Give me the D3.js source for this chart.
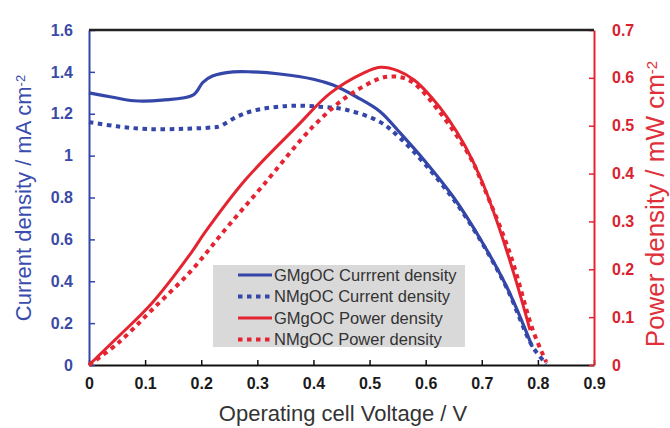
<!DOCTYPE html>
<html>
<head>
<script src="https://cdn.jsdelivr.net/npm/d3@7"></script>
<style>
  body { margin: 0; background: #fff; }
  svg { display: block; font-family: Arial, "Liberation Sans", sans-serif; }
</style>
</head>
<body>
<svg id="chart"></svg>
<script>
// voltage / current readings (GMgOC, NMgOC)
const gCurV = [0, 0.04, 0.08, 0.13, 0.186, 0.203, 0.22, 0.257, 0.29, 0.34, 0.40, 0.435, 0.477, 0.519, 0.554, 0.60, 0.65, 0.70, 0.745, 0.79];
const gCurI = [1.30, 1.28, 1.262, 1.265, 1.29, 1.35, 1.38, 1.40, 1.40, 1.39, 1.365, 1.337, 1.28, 1.21, 1.11, 0.97, 0.80, 0.59, 0.37, 0.087];
const nCurV = [0, 0.05, 0.103, 0.17, 0.22, 0.233, 0.264, 0.292, 0.353, 0.41, 0.46, 0.519, 0.554, 0.60, 0.65, 0.70, 0.745, 0.79, 0.815];
const nCurI = [1.16, 1.14, 1.127, 1.128, 1.135, 1.14, 1.186, 1.214, 1.237, 1.234, 1.218, 1.16, 1.085, 0.955, 0.79, 0.585, 0.365, 0.09, 0.005];
// power readings
const gPowV = [0, 0.052, 0.112, 0.183, 0.206, 0.278, 0.37, 0.43, 0.489, 0.519, 0.55, 0.58, 0.61, 0.64, 0.67, 0.70, 0.73, 0.76, 0.786];
const gPowP = [0, 0.059, 0.129, 0.236, 0.276, 0.386, 0.498, 0.568, 0.61, 0.622, 0.615, 0.595, 0.56, 0.515, 0.458, 0.385, 0.29, 0.18, 0.073];
const nPowV = [0, 0.052, 0.112, 0.183, 0.242, 0.31, 0.399, 0.459, 0.519, 0.54, 0.56, 0.58, 0.626, 0.679, 0.703, 0.75, 0.791, 0.815];
const nPowP = [0, 0.046, 0.115, 0.198, 0.282, 0.375, 0.498, 0.56, 0.599, 0.603, 0.600, 0.588, 0.527, 0.435, 0.373, 0.234, 0.073, 0.006];

const xTicks = [0, 0.1, 0.2, 0.3, 0.4, 0.5, 0.6, 0.7, 0.8, 0.9];
const yLeftTicks = [0, 0.2, 0.4, 0.6, 0.8, 1, 1.2, 1.4, 1.6];
const yRightTicks = [0, 0.1, 0.2, 0.3, 0.4, 0.5, 0.6, 0.7];
const legendLabels = ["GMgOC Currrent density", "NMgOC Current density", "GMgOC Power density", "NMgOC Power density"];

const width = 670, height = 428;
const margin = { top: 30, right: 76, bottom: 63, left: 89 };
const blue = "#3447a8", red = "#e52431";

const svg = d3.select("#chart").attr("width", width).attr("height", height);

const x = d3.scaleLinear().domain([0, 0.9]).range([margin.left, width - margin.right]);
const yL = d3.scaleLinear().domain([0, 1.6]).range([height - margin.bottom, margin.top]);
const yR = d3.scaleLinear().domain([0, 0.7]).range([height - margin.bottom, margin.top]);

// axes
const fmt = d => d3.format("")(d);

const gx = svg.append("g")
    .attr("transform", `translate(0,${height - margin.bottom})`)
    .call(d3.axisBottom(x).tickValues(xTicks).tickSizeInner(-5).tickSizeOuter(0).tickPadding(13).tickFormat(fmt));
gx.select(".domain").attr("stroke", "#111").attr("stroke-width", 2);
gx.selectAll(".tick line").attr("stroke", "#111").attr("stroke-width", 1.5);
gx.selectAll("text").attr("font-size", 16).attr("font-weight", "bold").attr("fill", "#1a1a1a");

const gl = svg.append("g")
    .attr("transform", `translate(${margin.left},0)`)
    .call(d3.axisLeft(yL).tickValues(yLeftTicks).tickSizeInner(-6).tickSizeOuter(0).tickPadding(16).tickFormat(fmt));
gl.select(".domain").attr("stroke", blue).attr("stroke-width", 2);
gl.selectAll(".tick line").attr("stroke", blue).attr("stroke-width", 1.5);
gl.selectAll("text").attr("font-size", 16).attr("font-weight", "bold").attr("fill", "#3a4aa6");

const gr = svg.append("g")
    .attr("transform", `translate(${width - margin.right},0)`)
    .call(d3.axisRight(yR).tickValues(yRightTicks).tickSizeInner(-5).tickSizeOuter(0).tickPadding(18).tickFormat(fmt));
gr.select(".domain").attr("stroke", red).attr("stroke-width", 2);
gr.selectAll(".tick line").attr("stroke", red).attr("stroke-width", 1.5);
gr.selectAll("text").attr("font-size", 16).attr("font-weight", "bold").attr("fill", "#d9222e");

// top border
svg.append("line")
    .attr("x1", margin.left).attr("x2", width - margin.right)
    .attr("y1", margin.top).attr("y2", margin.top)
    .attr("stroke", "#222").attr("stroke-width", 2.5);

// curves
const smooth = d3.curveCatmullRom.alpha(0.5);
const lineL = d3.line().x(d => x(d[0])).y(d => yL(d[1])).curve(smooth);
const lineR = d3.line().x(d => x(d[0])).y(d => yR(d[1])).curve(smooth);
const dotted = "4.5,4.5";

svg.append("path").datum(d3.zip(gCurV, gCurI)).attr("d", lineL)
    .attr("fill", "none").attr("stroke", blue).attr("stroke-width", 3.2);
svg.append("path").datum(d3.zip(nCurV, nCurI)).attr("d", lineL)
    .attr("fill", "none").attr("stroke", blue).attr("stroke-width", 4).attr("stroke-dasharray", dotted);
svg.append("path").datum(d3.zip(gPowV, gPowP)).attr("d", lineR)
    .attr("fill", "none").attr("stroke", red).attr("stroke-width", 3);
svg.append("path").datum(d3.zip(nPowV, nPowP)).attr("d", lineR)
    .attr("fill", "none").attr("stroke", red).attr("stroke-width", 4).attr("stroke-dasharray", dotted);

// legend
const leg = svg.append("g").attr("transform", "translate(213,265)");
leg.append("rect").attr("width", 252).attr("height", 82).attr("fill", "#d9d9d9");
const styles = [
    { c: blue, dash: null, w: 3.2 },
    { c: blue, dash: dotted, w: 4 },
    { c: red, dash: null, w: 3 },
    { c: red, dash: dotted, w: 4 }
];
legendLabels.forEach((t, i) => {
    const yy = 10 + i * 21.5;
    leg.append("line").attr("x1", 25).attr("x2", 59).attr("y1", yy).attr("y2", yy)
        .attr("stroke", styles[i].c).attr("stroke-width", styles[i].w)
        .attr("stroke-dasharray", styles[i].dash);
    leg.append("text").attr("x", 61).attr("y", yy).attr("dy", "0.36em")
        .attr("font-size", 16.5).attr("fill", "#333").text(t);
});

// axis titles
svg.append("text")
    .attr("transform", `translate(31,198) rotate(-90)`)
    .attr("text-anchor", "middle").attr("font-size", 22).attr("fill", "#3a4cae")
    .text("Current density / mA cm")
    .append("tspan").attr("dy", "-0.5em").attr("font-size", 13).text("-2");

svg.append("text")
    .attr("transform", `translate(664,204) rotate(-90)`)
    .attr("text-anchor", "middle").attr("font-size", 26).attr("fill", "#e0303a")
    .text("Power density / mW cm")
    .append("tspan").attr("dy", "-0.5em").attr("font-size", 15).text("-2");

svg.append("text")
    .attr("x", 343).attr("y", 421)
    .attr("text-anchor", "middle").attr("font-size", 22).attr("fill", "#333")
    .text("Operating cell Voltage / V");
</script>
</body>
</html>
